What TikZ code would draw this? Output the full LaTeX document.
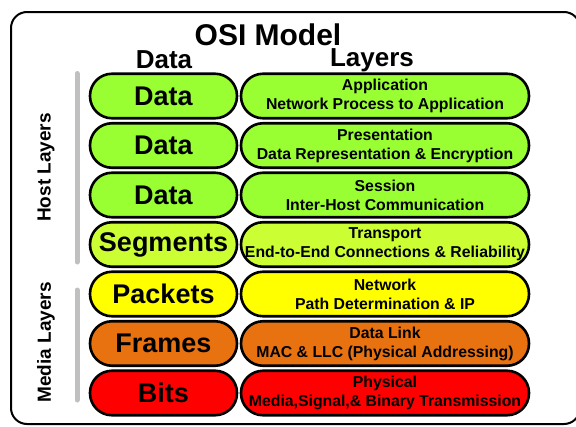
\documentclass[tikz,border=0pt]{standalone}
\usepackage{fontspec}
\setmainfont{Liberation Sans}
\definecolor{hostgreen}{RGB}{153,255,51}
\definecolor{lime}{RGB}{204,255,51}
\definecolor{netyellow}{RGB}{255,255,0}
\definecolor{linkorange}{RGB}{232,114,16}
\definecolor{physred}{RGB}{255,0,0}
\definecolor{bargray}{RGB}{192,192,192}

\begin{document}
\begin{tikzpicture}[x=1pt, y=-1pt,
	unit/.style={draw=black, line width=2.6pt, rounded corners=22pt, minimum width=147pt, minimum height=44.5pt, inner sep=0pt, font=\fontsize{27}{27}\selectfont\bfseries},
	layer/.style={unit, minimum width=288pt, align=center, font=\fontsize{15.8}{19}\selectfont\bfseries},
	group/.style={rotate=90, font=\fontsize{19}{19}\selectfont\bfseries},
	bar/.style={draw=bargray, line width=5pt, line cap=round}]
		\useasboundingbox (0,0) rectangle (576,426);
		\draw[line width=2pt, rounded corners=16pt] (11,12) rectangle (580,424);
		
		\node[anchor=base, font=\fontsize{30}{30}\selectfont\bfseries] (title) at (268,45) {OSI Model};
		\node[anchor=base, font=\fontsize{26}{26}\selectfont\bfseries] (datahead) at (164,68) {Data};
		\node[anchor=base, font=\fontsize{26}{26}\selectfont\bfseries] (layerhead) at (372,66) {Layers};
		
		\node[unit, fill=hostgreen] (d7) at (163.5,96) {Data};
		\node[unit, fill=hostgreen] (d6) at (163.5,145.5) {Data};
		\node[unit, fill=hostgreen] (d5) at (163.5,195) {Data};
		\node[unit, fill=lime] (d4) at (163.5,244.5) {Segments};
		\node[unit, fill=netyellow] (d3) at (163.5,294) {Packets};
		\node[unit, fill=linkorange] (d2) at (163.5,343.5) {Frames};
		\node[unit, fill=physred] (d1) at (163.5,393) {Bits};
		
		\node[layer, fill=hostgreen] (l7) at (385,96) {Application\\Network Process to Application};
		\node[layer, fill=hostgreen] (l6) at (385,145.5) {Presentation\\Data Representation \& Encryption};
		\node[layer, fill=hostgreen] (l5) at (385,195) {Session\\Inter-Host Communication};
		\node[layer, fill=lime] (l4) at (385,244.5) {Transport\\End-to-End Connections \& Reliability};
		\node[layer, fill=netyellow] (l3) at (385,294) {Network\\Path Determination \& IP};
		\node[layer, fill=linkorange] (l2) at (385,343.5) {Data Link\\MAC \& LLC (Physical Addressing)};
		\node[layer, fill=physred] (l1) at (385,393) {Physical\\Media,Signal,\& Binary Transmission};
		
		%host and media groups
		\coordinate (hosttop) at (77,73.5);
		\coordinate (hostbot) at (77,262);
		\coordinate (mediatop) at (77,290);
		\coordinate (mediabot) at (77,400);
		\draw[bar] (hosttop) -- (hostbot);
		\draw[bar] (mediatop) -- (mediabot);
		\node[group] (host) at (46,167.5) {Host Layers};
		\node[group] (media) at (46,342.5) {Media Layers};
		
	\end{tikzpicture}
\end{document}
